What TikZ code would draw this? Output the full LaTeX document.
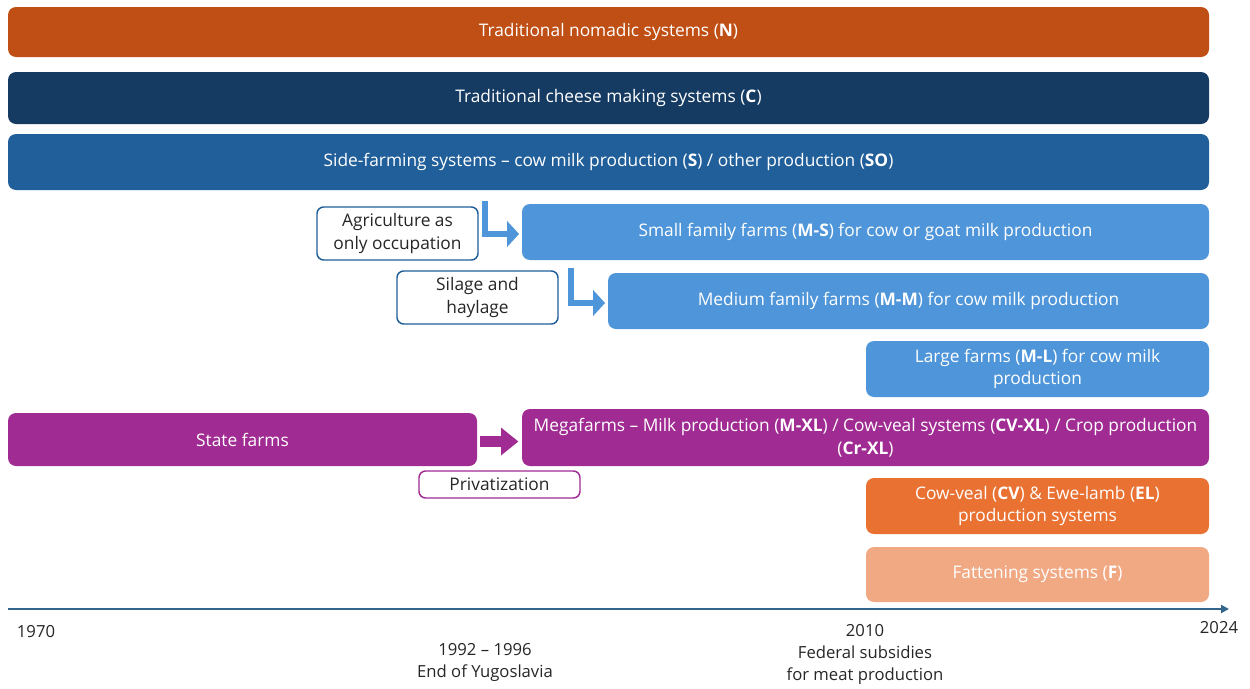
\documentclass[tikz,border=0pt]{standalone}
\usepackage{fontspec}
\setmainfont{Open Sans}
\usetikzlibrary{arrows.meta}

\definecolor{nomad}{RGB}{192,79,21}
\definecolor{cheese}{RGB}{22,59,98}
\definecolor{side}{RGB}{33,95,154}
\definecolor{famblue}{RGB}{78,149,217}
\definecolor{statefarm}{RGB}{160,43,147}
\definecolor{cowveal}{RGB}{233,113,50}
\definecolor{fatten}{RGB}{241,169,131}
\definecolor{timeaxis}{RGB}{52,102,140}

\begin{document}
\begin{tikzpicture}[x=0.75pt, y=-0.75pt,
  bar/.style={rectangle, rounded corners=6pt, inner sep=0pt, text=white, align=center, font=\fontsize{13}{17}\selectfont},
  note/.style={rectangle, rounded corners=5pt, draw, line width=1.1pt, fill=white, inner sep=0pt, align=center, text=black!85, font=\fontsize{13}{17}\selectfont, minimum width=120.75pt},
  yearlbl/.style={align=center, text=black!85, font=\fontsize{12.5}{16.5}\selectfont}]
	\useasboundingbox (0,0) rectangle (1250,689);

	\node[bar, fill=nomad, minimum width=900.75pt, minimum height=37.5pt] (n) at (608.5,32) {Traditional nomadic systems (\textbf{N})};
	\node[bar, fill=cheese, minimum width=900.75pt, minimum height=39pt] (c) at (608.5,98) {Traditional cheese making systems (\textbf{C})};
	\node[bar, fill=side, minimum width=900.75pt, minimum height=42pt] (s) at (608.5,162) {Side-farming systems -- cow milk production (\textbf{S}) / other production (\textbf{SO})};

	\node[bar, fill=famblue, minimum width=515.25pt, minimum height=42pt] (ms) at (865.5,232) {Small family farms (\textbf{M-S}) for cow or goat milk production};
	\node[bar, fill=famblue, minimum width=450.75pt, minimum height=42pt] (mm) at (908.5,301) {Medium family farms (\textbf{M-M}) for cow milk production};
	\node[bar, fill=famblue, minimum width=257.25pt, minimum height=42pt] (ml) at (1037.5,369) {Large farms (\textbf{M-L}) for cow milk\\production};

	\node[bar, fill=statefarm, minimum width=351.75pt, minimum height=39.75pt] (state) at (242.5,439.5) {State farms};
	\node[bar, fill=statefarm, minimum width=515.25pt, minimum height=42.75pt] (mega) at (865.5,437.5) {Megafarms -- Milk production (\textbf{M-XL}) / Cow-veal systems (\textbf{CV-XL}) / Crop production\\(\textbf{Cr-XL})};

	\node[bar, fill=cowveal, minimum width=257.25pt, minimum height=42pt] (cv) at (1037.5,506) {Cow-veal (\textbf{CV}) \& Ewe-lamb (\textbf{EL})\\production systems};
	\node[bar, fill=fatten, minimum width=257.25pt, minimum height=41.25pt] (f) at (1037.5,574.5) {Fattening systems (\textbf{F})};

	\node[note, draw=side, minimum height=39.75pt] (agri) at (397.5,233.5) {Agriculture as\\only occupation};
	\node[note, draw=side, minimum height=39.75pt] (silage) at (477.5,297.5) {Silage and\\haylage};
	\node[note, draw=statefarm, minimum height=20.25pt] (priv) at (499.5,484.5) {Privatization};

	\coordinate (l1) at (485,201);
	\coordinate (l2) at (571,268);
	\draw[famblue, line width=5pt, -{Triangle[width=19pt,length=9pt]}] (l1) |- ([xshift=-2pt,yshift=-1.5pt]ms.west);
	\draw[famblue, line width=5pt, -{Triangle[width=19pt,length=9pt]}] (l2) |- ([xshift=-2pt,yshift=-1.5pt]mm.west);

	\path (state.east -| mega.west) coordinate (megain);
	\draw[statefarm, line width=8pt, -{Triangle[width=20pt,length=13pt]}] ([xshift=2pt,yshift=-1.5pt]state.east) -- ([xshift=-2.5pt,yshift=-1.5pt]megain);

	\coordinate (t0) at (8,609);
	\coordinate (t1) at (1229,609);
	\draw[timeaxis, line width=1.6pt, -{Triangle[width=6pt,length=6pt]}] (t0) -- (t1);

	\node[yearlbl] (y1970) at (36,632) {1970};
	\node[yearlbl] (y1992) at (485,662) {1992 -- 1996\\End of Yugoslavia};
	\node[yearlbl] (y2010) at (865,654.5) {2010\\Federal subsidies\\for meat production};
	\node[yearlbl] (y2024) at (1219,628) {2024};
\end{tikzpicture}
\end{document}
